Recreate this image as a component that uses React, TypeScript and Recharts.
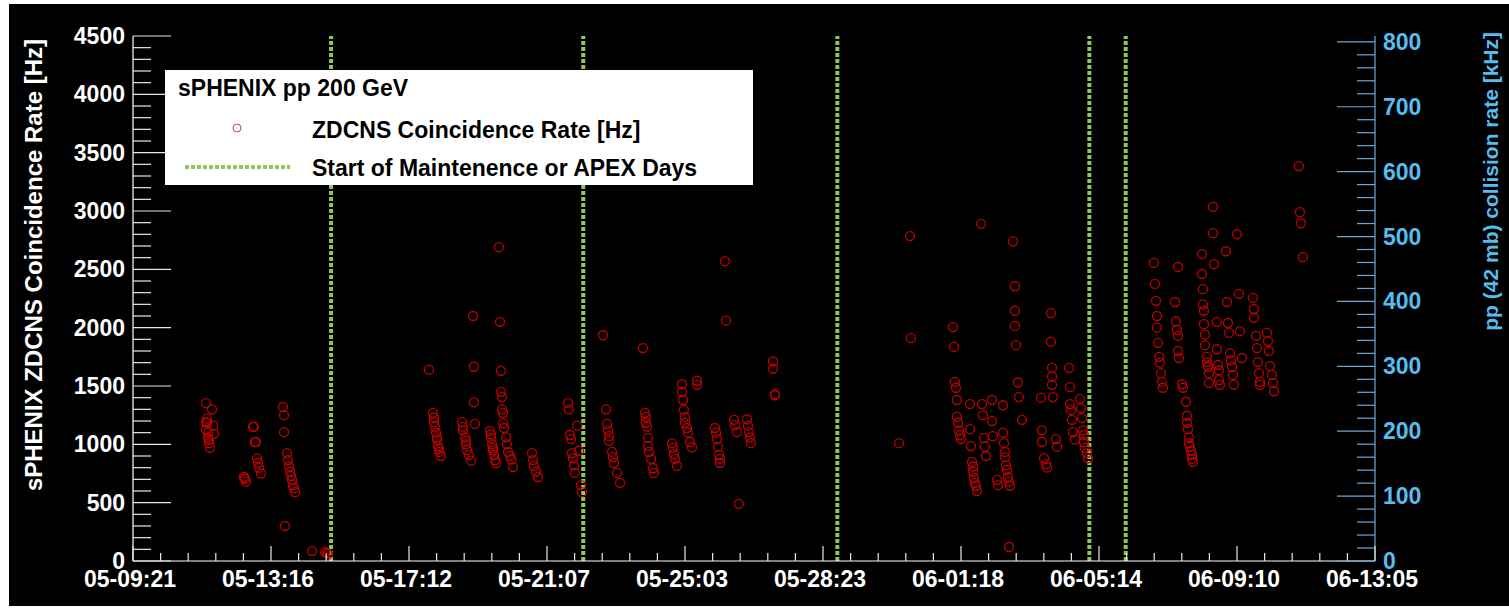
import React from 'react';
import { ScatterChart, Scatter, XAxis, YAxis, ReferenceLine } from 'recharts';

type Pt = [number, number];

// x: hours since 05-09 21:00, y: ZDCNS coincidence rate [Hz]
const xLabels = ['05-09:21', '05-13:16', '05-17:12', '05-21:07', '05-25:03', '05-28:23', '06-01:18', '06-05:14', '06-09:10', '06-13:05'];
const spanHours = 824;
const maintenanceStarts = [131.4, 298.7, 467.3, 634.5, 658.6];

const period1: Pt[] = [
    [48.4, 1354], [52.4, 1300], [49.1, 1220], [49.1, 1185], [48.4, 1190], [48.4, 1125], [53.1, 1160], [53.7, 1090],
    [49.8, 1100], [49.8, 1060], [50.4, 1040], [50.4, 1010], [51.1, 970],
    [73.6, 720], [74.2, 705], [75.0, 680], [79.6, 1150], [80.2, 1150], [80.9, 1020], [81.5, 1020], [82.3, 880], [82.9, 840], [83.6, 800], [84.9, 750],
    [99.5, 1320], [100.2, 1250], [100.2, 1105], [102.2, 925], [102.8, 865], [103.5, 810], [104.2, 765], [104.8, 730],
    [105.5, 695], [106.1, 650], [106.8, 625], [107.5, 590], [100.8, 300],
    [118.8, 85], [127.4, 77], [128.7, 70], [129.4, 60],
];

const period2: Pt[] = [
    [196.4, 1640],
    [199.0, 1270], [199.7, 1230], [199.7, 1190], [200.3, 1150], [201.0, 1100], [201.7, 1060], [201.7, 1040], [202.3, 985], [203.0, 960], [203.0, 935], [204.3, 900],
    [218.3, 1190], [218.9, 1150], [218.9, 1120], [220.3, 1060], [220.9, 1030], [220.9, 1000], [221.6, 950], [222.9, 910], [224.2, 860],
    [225.6, 2100], [226.2, 1665], [226.2, 1360], [226.9, 1175],
    [236.8, 1115], [237.5, 1085], [237.5, 1055], [238.2, 1000], [238.8, 970], [238.8, 950], [239.5, 910], [240.2, 865], [240.8, 840],
    [242.8, 2690], [243.5, 2050], [244.1, 1630], [244.1, 1450], [244.8, 1405], [244.8, 1300], [245.5, 1270], [245.5, 1180], [246.1, 1140],
    [247.5, 1060], [248.1, 1000], [248.8, 935], [250.0, 900], [251.0, 870], [252.1, 805],
    [264.7, 925], [265.4, 865], [266.0, 815], [267.4, 765], [268.7, 720],
    [288.6, 1355], [289.2, 1300], [294.6, 1160], [289.9, 1080], [290.6, 1045], [291.2, 925], [291.9, 880], [292.6, 820], [293.2, 755],
    [295.9, 945], [297.2, 650], [297.9, 590],
];

const period3: Pt[] = [
    [311.8, 1935], [313.8, 1300], [314.5, 1175], [315.1, 1120], [315.8, 1070], [315.8, 1030], [317.8, 935], [318.4, 890], [319.1, 840], [321.1, 755], [323.1, 670],
    [338.3, 1825],
    [339.7, 1270], [340.3, 1235], [340.3, 1185], [341.0, 1150], [341.7, 1055], [341.7, 985], [342.3, 935], [343.7, 875], [345.0, 795], [345.6, 755],
    [357.6, 1010], [358.2, 970], [358.9, 915], [359.6, 875], [360.9, 815],
    [364.2, 1515], [364.2, 1450], [364.9, 1380], [365.5, 1295], [366.2, 1235], [366.2, 1185], [367.5, 1140], [368.2, 1100], [369.5, 1020], [370.8, 975],
    [374.2, 1545], [374.2, 1510],
    [386.1, 1140], [386.8, 1100], [387.4, 1045], [388.1, 980], [388.8, 910], [389.4, 875], [389.4, 840],
    [392.7, 2570], [393.4, 2060],
    [398.7, 1210], [399.4, 1165], [400.7, 1105],
    [402.0, 490],
    [407.3, 1215], [408.0, 1160], [408.7, 1105], [409.3, 1060], [410.0, 1010],
    [424.6, 1710], [424.6, 1650], [425.9, 1430], [425.9, 1420],
];

const period4: Pt[] = [
    [508.2, 1010], [515.5, 2785], [516.1, 1910],
    [544.0, 2005], [544.7, 1835], [545.3, 1535], [546.0, 1485], [546.6, 1380], [546.6, 1235], [547.3, 1185], [548.0, 1120], [548.6, 1080], [549.3, 1045],
    [555.3, 1345], [555.3, 1130], [555.9, 985], [556.6, 850], [557.3, 810], [557.3, 765], [557.9, 710], [558.6, 670], [559.3, 645], [559.9, 600],
    [562.6, 2890],
    [563.2, 1345], [563.9, 1250], [564.6, 1055], [565.2, 980], [565.9, 900],
    [569.9, 1380], [569.9, 1200], [570.5, 1070],
    [573.2, 695], [573.9, 650],
    [577.2, 1335], [577.2, 1100], [577.8, 1010], [578.5, 935], [578.5, 890], [579.2, 820], [579.8, 780], [580.5, 720], [581.2, 680], [581.8, 645],
    [581.2, 120],
    [583.8, 2740],
    [585.1, 2355], [585.1, 2145], [585.1, 2015], [585.8, 1850], [587.1, 1530], [587.8, 1405], [589.8, 1210],
    [602.4, 1400], [603.0, 1120], [603.0, 1020], [604.4, 880], [605.7, 830], [606.4, 800],
    [609.0, 2125], [609.0, 1880], [609.7, 1655], [609.7, 1580], [609.7, 1510], [610.3, 1405],
    [612.3, 1045], [613.0, 980],
    [621.0, 1655], [621.6, 1490], [621.6, 1345], [622.3, 1295], [622.9, 1210], [623.6, 1105], [624.9, 1040],
    [628.2, 1390], [628.9, 1310], [629.6, 1225], [630.2, 1120], [630.9, 1080], [630.9, 1020], [631.6, 970], [632.9, 925], [633.6, 880],
];

const period5: Pt[] = [
    [677.3, 2555], [678.0, 2375], [678.7, 2230], [679.3, 2100], [679.3, 2000], [680.0, 1870], [680.7, 1750], [681.3, 1700], [682.0, 1610], [682.6, 1535], [683.3, 1485],
    [693.3, 2520], [691.3, 2220], [691.9, 2055], [692.6, 1980], [693.3, 1930], [693.3, 1800], [693.9, 1740], [695.9, 1515], [696.6, 1485],
    [698.6, 1365], [699.3, 1245], [699.3, 1185], [699.9, 1130], [700.6, 1060], [700.6, 1010], [701.2, 980], [701.9, 945], [702.6, 910], [702.6, 875], [703.2, 850],
    [709.2, 2630], [709.2, 2460], [709.8, 2330], [709.8, 2200], [710.5, 2145], [710.5, 2030], [711.2, 1940], [711.2, 1850], [712.5, 1750], [712.5, 1705],
    [713.2, 1665], [713.8, 1610], [713.8, 1525],
    [716.5, 3035], [716.5, 2810], [717.2, 2545],
    [719.1, 2050], [719.1, 1815], [719.8, 1680], [720.5, 1635], [720.5, 1550], [721.1, 1510],
    [725.1, 2655], [725.8, 2220], [726.4, 2040], [727.1, 1955], [727.8, 1780], [728.4, 1720], [729.1, 1665], [729.8, 1595], [730.4, 1510],
    [732.4, 2800], [733.7, 2290], [734.4, 1970], [735.7, 1740],
    [743.0, 2255], [743.7, 2160], [743.7, 2085], [745.0, 1930], [745.7, 1825], [746.3, 1705], [747.0, 1610], [747.7, 1535], [747.7, 1510],
    [752.3, 1955], [753.0, 1885], [753.6, 1800], [754.3, 1670], [755.6, 1595], [756.3, 1525], [757.0, 1455],
    [773.5, 3385], [774.2, 2990], [774.9, 2895], [776.2, 2605],
];

const rateData = [...period1, ...period2, ...period3, ...period4, ...period5].map(([t, hz]) => ({ t, hz }));

const FONT = '"Liberation Sans", Arial, Helvetica, sans-serif';
const BLUE = '#55bdf0';
const GREEN = '#8fc85a';

const xTicks = Array.from({ length: 46 }, (_, i) => (i * spanHours) / 45);
const leftTicks = Array.from({ length: 46 }, (_, i) => i * 100);
const rightTicks = Array.from({ length: 41 }, (_, i) => i * 20);

const BottomTick = (props: any) => {
    const { x, y, payload } = props;
    const k = Math.round((payload.value * 45) / spanHours);
    const major = k % 5 === 0;
    return (
        <g>
            <line x1={x} x2={x} y1={y} y2={y - (major ? 15 : 8)} stroke="#e8e8e8" strokeWidth={1.2} />
            {major && (
                <text x={x - 3} y={y + 26} textAnchor="middle" fill="#fff" fontSize={23} fontWeight="bold">
                    {xLabels[k / 5]}
                </text>
            )}
        </g>
    );
};

const TopTick = (props: any) => {
    const { x, y, payload } = props;
    const k = Math.round((payload.value * 45) / spanHours);
    const major = k % 5 === 0;
    return <line x1={x} x2={x} y1={y} y2={y + (major ? 15 : 8)} stroke="#e8e8e8" strokeWidth={1.2} />;
};

const LeftTick = (props: any) => {
    const { x, y, payload } = props;
    const major = payload.value % 500 === 0;
    return (
        <g>
            <line x1={x} x2={x + (major ? 38 : 18)} y1={y} y2={y} stroke="#e8e8e8" strokeWidth={1.2} />
            {major && (
                <text x={x - 8} y={y + 8} textAnchor="end" fill="#fff" fontSize={23} fontWeight="bold">
                    {payload.value}
                </text>
            )}
        </g>
    );
};

const RightTick = (props: any) => {
    const { x, y, payload } = props;
    const major = payload.value % 100 === 0;
    return (
        <g>
            <line x1={x} x2={x - (major ? 38 : 18)} y1={y} y2={y} stroke="#6aaad6" strokeWidth={1.2} />
            {major && (
                <text x={x + 8} y={y + 8} textAnchor="start" fill={BLUE} fontSize={23} fontWeight="bold">
                    {payload.value}
                </text>
            )}
        </g>
    );
};

const leftTitle = (props: any) => {
    const vb = props.viewBox;
    const x = vb.x + 33;
    const y = vb.y + 3;
    return (
        <text x={x} y={y} transform={`rotate(-90 ${x} ${y})`} textAnchor="end" fill="#fff" fontSize={24} fontWeight="bold">
            sPHENIX ZDCNS Coincidence Rate [Hz]
        </text>
    );
};

const rightTitle = (props: any) => {
    const vb = props.viewBox;
    const x = vb.x + 123;
    const y = vb.y - 4;
    return (
        <text x={x} y={y} transform={`rotate(-90 ${x} ${y})`} textAnchor="end" fill={BLUE} fontSize={21} fontWeight="bold">
            pp (42 mb) collision rate [kHz]
        </text>
    );
};

const RateMarker = (props: any) => (
    <circle cx={props.cx} cy={props.cy} r={4.5} fill="none" stroke="#c00000" strokeWidth={1.3} />
);

export default function App() {
    return (
        <div style={{ position: 'absolute', left: 0, top: 0, width: 1509, height: 608, background: '#fff', fontFamily: FONT }}>
            <div style={{ position: 'absolute', left: 9, top: 4, width: 1500, height: 602, background: '#000' }}>
                <ScatterChart width={1500} height={602} margin={{ top: 32, right: 0, bottom: 0, left: 0 }}>
                    <XAxis
                        dataKey="t"
                        type="number"
                        domain={[0, spanHours]}
                        ticks={xTicks}
                        interval={0}
                        tickSize={0}
                        tickMargin={0}
                        tick={BottomTick}
                        height={45}
                        axisLine={{ stroke: '#fff', strokeWidth: 1.2 }}
                        allowDataOverflow
                    />
                    <XAxis
                        xAxisId="top"
                        orientation="top"
                        type="number"
                        domain={[0, spanHours]}
                        ticks={xTicks}
                        interval={0}
                        tickSize={0}
                        tickMargin={0}
                        tick={TopTick}
                        height={0}
                        axisLine={{ stroke: '#ddd', strokeWidth: 1.2 }}
                        allowDataOverflow
                    />
                    <YAxis
                        yAxisId="left"
                        dataKey="hz"
                        type="number"
                        domain={[0, 4500]}
                        ticks={leftTicks}
                        interval={0}
                        tickSize={0}
                        tickMargin={0}
                        tick={LeftTick}
                        width={124}
                        axisLine={{ stroke: '#fff', strokeWidth: 1.2 }}
                        label={leftTitle}
                        allowDataOverflow
                    />
                    <YAxis
                        yAxisId="right"
                        orientation="right"
                        type="number"
                        domain={[0, 809]}
                        ticks={rightTicks}
                        interval={0}
                        tickSize={0}
                        tickMargin={0}
                        tick={RightTick}
                        width={134}
                        axisLine={{ stroke: '#6aaad6', strokeWidth: 1.2 }}
                        label={rightTitle}
                        allowDataOverflow
                    />
                    {maintenanceStarts.map((t) => (
                        <ReferenceLine
                            key={t}
                            x={t}
                            yAxisId="left"
                            stroke={GREEN}
                            strokeWidth={4}
                            strokeDasharray="4 2"
                        />
                    ))}
                    <Scatter
                        data={rateData}
                        yAxisId="left"
                        name="ZDCNS Coincidence Rate [Hz]"
                        shape={RateMarker}
                        isAnimationActive={false}
                    />
                </ScatterChart>
            </div>
            <svg style={{ position: 'absolute', left: 165, top: 70 }} width={588} height={115}>
                <rect x={0} y={0} width={588} height={115} fill="#fff" />
                <text x={13} y={26} fontSize={23} fontWeight="bold" fill="#000">sPHENIX pp 200 GeV</text>
                <circle cx={72} cy={58} r={4} fill="none" stroke="#e03a3a" strokeWidth={1} />
                <text x={147} y={68} fontSize={23} fontWeight="bold" fill="#000">ZDCNS Coincidence Rate [Hz]</text>
                <line x1={20} x2={125} y1={97} y2={97} stroke={GREEN} strokeWidth={4} strokeDasharray="4 2" />
                <text x={147} y={106} fontSize={23} fontWeight="bold" fill="#000">Start of Maintenence or APEX Days</text>
            </svg>
        </div>
    );
}
